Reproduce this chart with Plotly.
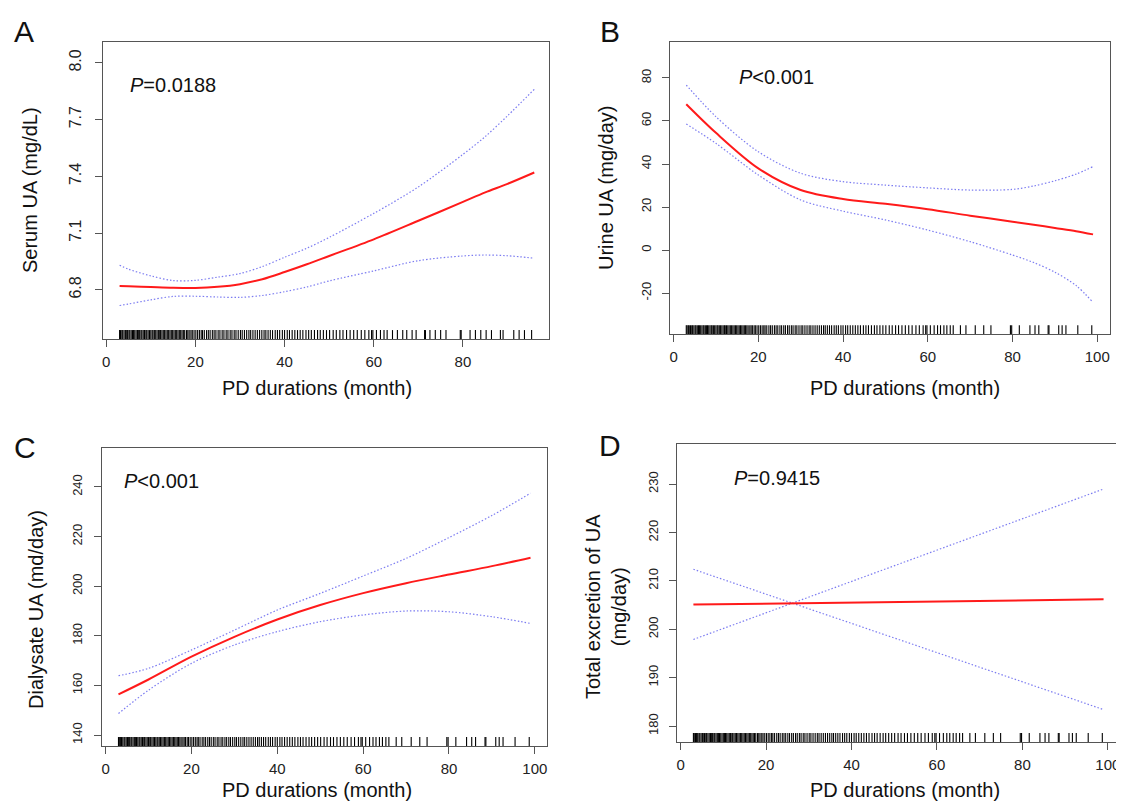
import plotly.graph_objects as go

# ---------------- data ----------------
# Panel A: Serum UA (mg/dL)
xa = [3, 5, 10, 15, 20, 25, 30, 35, 40, 45, 50, 60, 70, 80, 85, 90, 96]
fit_a = [6.82, 6.819, 6.815, 6.811, 6.81, 6.816, 6.83, 6.856, 6.894, 6.935, 6.979, 7.067, 7.165,
         7.265, 7.315, 7.36, 7.42]
upper_a = [6.93, 6.909, 6.874, 6.849, 6.85, 6.867, 6.886, 6.923, 6.972, 7.02, 7.077, 7.204, 7.344,
           7.516, 7.61, 7.72, 7.86]
lower_a = [6.717, 6.725, 6.747, 6.765, 6.766, 6.762, 6.76, 6.77, 6.79, 6.815, 6.847, 6.90, 6.954,
           6.979, 6.984, 6.98, 6.967]

# Panel B: Urine UA (mg/day)
xb = [3, 10, 20, 30, 40, 50, 60, 70, 80, 85, 90, 95, 99]
fit_b = [67.8, 54.5, 38.0, 27.9, 23.7, 21.5, 19.0, 16.0, 13.2, 11.8, 10.3, 8.8, 7.3]
upper_b = [76.7, 62.0, 45.7, 35.7, 31.8, 30.2, 28.9, 27.9, 28.2, 29.8, 32.2, 35.3, 38.8]
lower_b = [58.6, 49.6, 34.9, 23.3, 18.1, 14.0, 9.3, 3.9, -2.3, -5.8, -10.3, -16.5, -24.3]

# Panel C: Dialysate UA (md/day)
xc = [3, 10, 20, 30, 40, 50, 60, 70, 80, 90, 99]
fit_c = [156.4, 162.4, 171.6, 179.6, 186.6, 192.4, 197.2, 201.2, 204.7, 208.1, 211.5]
upper_c = [163.9, 166.9, 174.3, 182.3, 190.4, 197.1, 204.1, 211.2, 219.6, 228.5, 237.5]
lower_c = [148.7, 158.1, 168.9, 176.3, 181.7, 185.7, 188.4, 190.0, 189.7, 187.7, 185.0]

# Panel D: Total excretion of UA (mg/day)
xd = [3, 99]
fit_d = [205.1, 206.2]
upper_d = [197.9, 229.0]
lower_d = [212.4, 183.4]

# rug: PD durations (month) of observations
rug_common = [3.0, 3.2, 3.5, 3.7, 4.0, 4.3, 4.5, 4.8, 5.1, 5.3, 5.6, 5.9, 6.1, 6.4, 6.7, 7.0,
              7.2, 7.5, 7.8, 8.0, 8.3, 8.6, 8.9, 9.1, 9.4, 9.7, 10.0, 10.3, 10.5, 10.8, 11.1,
              11.4, 11.7, 12.0, 12.2, 12.5, 12.8, 13.1, 13.4, 13.7, 14.0, 14.3, 14.6, 14.9,
              15.2, 15.5, 15.8, 16.1, 16.4, 16.7, 17.0, 17.3, 17.6, 18.0, 18.3, 18.6, 19.0,
              19.3, 19.7, 20.1, 20.5, 20.9, 21.3, 21.6, 22.0, 22.5, 22.9, 23.3, 23.8, 24.2,
              24.6, 25.1, 25.5, 26.0, 26.4, 26.9, 27.3, 27.8, 28.2, 28.7, 29.1, 29.6, 30.1,
              30.5, 31.0, 31.5, 32.0, 32.4, 32.9, 33.4, 33.9, 34.4, 34.9, 35.4, 35.8, 36.3,
              36.8, 37.3, 37.9, 38.4, 38.9, 39.5, 40.0, 40.6, 41.1, 41.7, 42.3, 42.9, 43.5,
              44.1, 44.8, 45.4, 46.0, 46.7, 47.4, 48.0, 48.7, 49.4, 50.1, 50.9, 51.6, 52.4,
              53.1, 53.9, 54.7, 55.5, 56.3, 57.2, 58.0, 58.9, 59.5, 59.8, 60.6, 61.5, 62.3]
rug_tail_a = [63.0, 64.2, 65.3, 66.5, 67.4, 68.6, 69.5, 71.4, 71.6, 72.6, 73.8, 75.0, 76.2,
              79.4, 79.6, 81.6, 82.8, 84.0, 85.2, 86.4, 88.4, 89.0, 91.4, 92.6, 93.8, 95.4]
rug_tail_bcd = [63.0, 63.8, 64.5, 65.3, 66.0, 67.7, 69.0, 71.2, 73.2, 74.9, 79.5, 79.8,
                81.6, 84.1, 85.3, 86.2, 88.4, 88.6, 90.9, 91.7, 92.6, 95.4, 98.7]

titles_y = ["Serum UA (mg/dL)", "Urine UA (mg/day)", "Dialysate UA (md/day)",
            "Total excretion of UA<br>(mg/day)"]
title_x = "PD durations (month)"
p_texts = ["<i>P</i>=0.0188", "<i>P</i><0.001", "<i>P</i><0.001", "<i>P</i>=0.9415"]
letters = ["A", "B", "C", "D"]

# ---------------- layout geometry ----------------
# the page body has an 8px default margin, so the figure is drawn at (8, 8)
OFF = 8
W, H = 1124 - OFF, 802 - OFF
FONT = "Liberation Sans, Arial, Helvetica, sans-serif"

def fx(px):
    return (px - OFF) / W

def fy(py):
    return 1 - (py - OFF) / H

# (left, right, top, bottom) in pixels of the target image
boxes = [(103, 549, 42, 339), (670, 1110, 42, 334), (102, 547, 448, 746), (677, 1120, 444, 742)]
xranges = [[-0.72, 99.3], [-0.84, 103.0], [-0.84, 102.84], [-0.84, 102.84]]
yranges = [[6.54, 8.11], [-39.0, 96.7], [135.6, 255.7], [176.7, 238.3]]
yticks = [[6.8, 7.1, 7.4, 7.7, 8.0], [-20, 0, 20, 40, 60, 80],
          [140, 160, 180, 200, 220, 240], [180, 190, 200, 210, 220, 230]]
ytick_text = [["6.8", "7.1", "7.4", "7.7", "8.0"], ["-20", "0", "20", "40", "60", "80"],
              ["140", "160", "180", "200", "220", "240"], ["180", "190", "200", "210", "220", "230"]]
xticks = [[0, 20, 40, 60, 80], [0, 20, 40, 60, 80, 100], [0, 20, 40, 60, 80, 100],
          [0, 20, 40, 60, 80, 100]]
ytick_size = [16, 13, 13, 13]
ytick_standoff = [8, 6, 7, 6]

series = [(xa, fit_a, upper_a, lower_a, rug_common + rug_tail_a),
          (xb, fit_b, upper_b, lower_b, rug_common + rug_tail_bcd),
          (xc, fit_c, upper_c, lower_c, rug_common + rug_tail_bcd),
          (xd, fit_d, upper_d, lower_d, rug_common + rug_tail_bcd)]

fig = go.Figure()
layout = dict(width=W, height=H, margin=dict(l=0, r=0, t=0, b=0),
              paper_bgcolor="white", plot_bgcolor="white", showlegend=False,
              font=dict(family=FONT, color="#111"))
annotations = []

for i in range(4):
    n = "" if i == 0 else str(i + 1)
    xref, yref = "x" + n, "y" + n
    x, fit, up, lo, rug = series[i]
    shape = "linear" if i == 3 else "spline"
    # rug ticks
    y0 = yranges[i][0]
    y1 = y0 + 0.03 * (yranges[i][1] - yranges[i][0])
    rx, ry = [], []
    for v in rug:
        rx += [v, v, None]
        ry += [y0, y1, None]
    fig.add_trace(go.Scatter(x=rx, y=ry, mode="lines", xaxis=xref, yaxis=yref,
                             line=dict(color="black", width=1.1), hoverinfo="skip"))
    for band in (up, lo):
        fig.add_trace(go.Scatter(x=x, y=band, mode="lines", xaxis=xref, yaxis=yref,
                                 line=dict(color="rgba(110,110,240,0.9)", width=1.2,
                                           dash="1.5px,2px", shape=shape, smoothing=0.9)))
    fig.add_trace(go.Scatter(x=x, y=fit, mode="lines", xaxis=xref, yaxis=yref,
                             line=dict(color="#ff1a1a", width=2, shape=shape, smoothing=0.9)))

    l, r, t, b = boxes[i]
    axcommon = dict(showline=True, mirror=True, linecolor="#555", linewidth=1,
                    ticks="outside", ticklen=7, tickcolor="#555", tickwidth=1,
                    showgrid=False, zeroline=False, fixedrange=True)
    layout["xaxis" + n] = dict(axcommon, domain=[fx(l), fx(r)], range=xranges[i],
                               anchor=yref, tickmode="array", tickvals=xticks[i],
                               ticktext=[str(v) for v in xticks[i]],
                               tickfont=dict(size=15, color="#222"), ticklabelstandoff=2)
    layout["yaxis" + n] = dict(axcommon, domain=[fy(b), fy(t)], range=yranges[i],
                               anchor=xref, tickmode="array", tickvals=yticks[i],
                               ticktext=ytick_text[i], tickangle=-90,
                               tickfont=dict(size=ytick_size[i], color="#222"),
                               ticklabelstandoff=ytick_standoff[i])

# text annotations: (letter pos), (y title pos), (x title pos), (P text pos)
letter_pos = [(24, 32), (610, 32), (25, 447), (610, 445)]
ytitle_pos = [(30, 190), (606, 188), (36, 610), (606, 607)]
xtitle_pos = [(317, 388), (905, 388), (317, 790), (905, 790)]
p_pos = [(128, 85), (737, 77), (122, 481), (732, 478)]

for i in range(4):
    annotations.append(dict(text=letters[i], x=fx(letter_pos[i][0]), y=fy(letter_pos[i][1]),
                            xref="paper", yref="paper", showarrow=False, xanchor="center",
                            yanchor="middle", font=dict(size=30, color="#111", family=FONT)))
    annotations.append(dict(text=titles_y[i], x=fx(ytitle_pos[i][0]), y=fy(ytitle_pos[i][1]),
                            xref="paper", yref="paper", showarrow=False, textangle=-90,
                            xanchor="center", yanchor="middle",
                            font=dict(size=20, color="#111", family=FONT)))
    annotations.append(dict(text=title_x, x=fx(xtitle_pos[i][0]), y=fy(xtitle_pos[i][1]),
                            xref="paper", yref="paper", showarrow=False, xanchor="center",
                            yanchor="middle", font=dict(size=20, color="#111", family=FONT)))
    annotations.append(dict(text=p_texts[i], x=fx(p_pos[i][0]), y=fy(p_pos[i][1]),
                            xref="paper", yref="paper", showarrow=False, xanchor="left",
                            yanchor="middle", font=dict(size=20, color="#111", family=FONT)))

layout["annotations"] = annotations
fig.update_layout(**layout)
fig.write_html("out.html")
